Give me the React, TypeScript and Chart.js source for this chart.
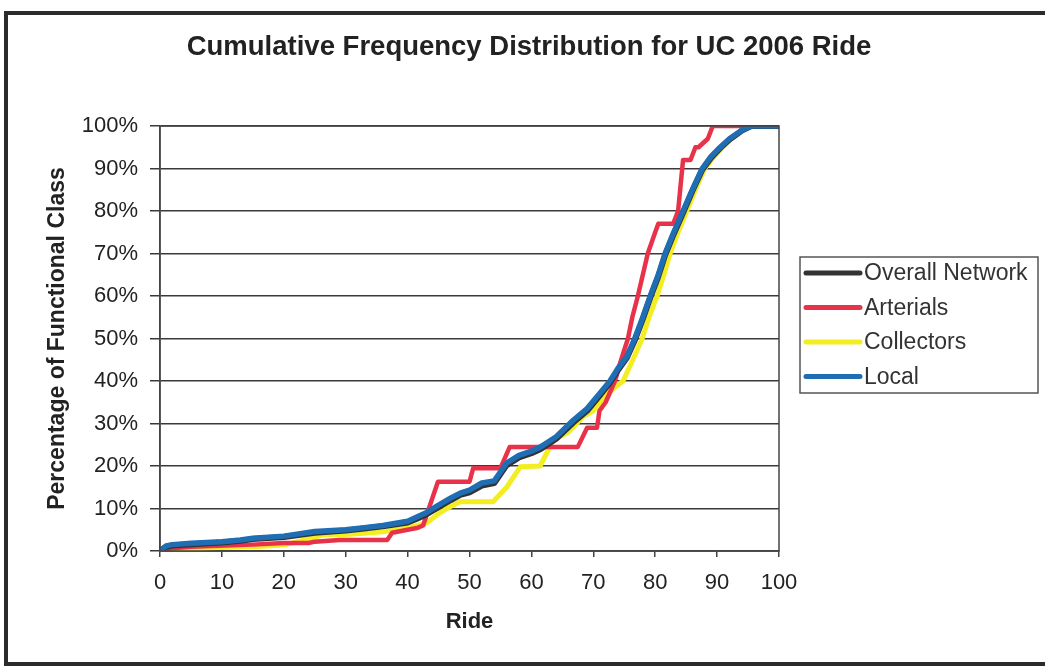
import React, { useEffect, useRef } from "react";
import { Chart, registerables } from "chart.js";

Chart.register(...registerables);

const TITLE = "Cumulative Frequency Distribution for UC 2006 Ride";
const X_TITLE = "Ride";
const Y_TITLE = "Percentage of Functional Class";

const localX = [0, 1, 2, 5, 10, 13, 15, 20, 25, 30, 33, 36, 40, 41.5, 43, 45, 47, 48.5, 50, 52, 54, 56, 58, 60, 61.5, 64, 66.8, 69, 71, 72.7, 74, 75.4, 76.7, 78, 79.2, 80.5, 81.6, 83, 84.5, 86, 87.6, 89, 90.5, 92, 94, 95.5, 100];
const localY = [0, 1.2, 1.5, 1.8, 2.2, 2.6, 3.0, 3.5, 4.6, 5.0, 5.5, 6.0, 7.0, 8.0, 9.0, 10.8, 12.5, 13.6, 14.3, 16, 16.5, 20.7, 22.5, 23.5, 24.5, 26.9, 30.8, 33.5, 37, 40, 43, 45.7, 50, 55, 60, 65, 70, 75, 80, 85, 90, 92.8, 95, 97, 99, 100, 100];

const overallX = [0, 1, 2, 5, 10, 13, 15, 20, 25, 30, 33, 36, 40, 41.5, 43, 45, 47, 48.5, 50, 52, 54, 56, 58, 60, 61.5, 64, 66.8, 69, 71, 72.7, 74, 75.4, 76.7, 78, 79.2, 80.5, 81.6, 83, 84.5, 86, 87.6, 89, 90.5, 92, 94, 95.5, 100];
const overallY = [0, 1.0, 1.3, 1.6, 2.0, 2.4, 2.8, 3.3, 4.3, 4.8, 5.3, 5.8, 6.7, 7.6, 8.6, 10.3, 12.0, 13.2, 13.8, 15.4, 16.0, 20.2, 22.0, 23.0, 24.0, 26.4, 30.3, 33.0, 36.5, 39.6, 42.6, 45.4, 49.6, 54.6, 59.6, 64.6, 69.6, 74.6, 79.6, 84.7, 89.7, 92.5, 94.8, 96.8, 98.9, 100, 100];

const arterialsX = [0, 1, 5, 15, 20, 24, 25, 29, 36.7, 37.5, 40, 41.5, 42.5, 44.9, 47, 50, 50.6, 55, 56.5, 60, 66.7, 67.5, 69, 70.6, 71, 72, 73.5, 74.5, 75.6, 76.3, 77.2, 78.8, 80, 80.5, 82.9, 83.7, 84.5, 85.7, 86.5, 87, 88.5, 89.3, 100];
const arterialsY = [0, 0.5, 1.0, 1.5, 1.9, 1.9, 2.2, 2.6, 2.6, 4.3, 5.0, 5.4, 6.0, 16.3, 16.3, 16.3, 19.5, 19.5, 24.5, 24.5, 24.5, 24.5, 29, 29, 33, 35, 40, 45, 50, 55, 60, 70, 75, 77, 77, 80, 92, 92, 95, 95, 97, 100, 100];

const collectorsX = [0, 2, 5, 10, 15, 20, 23, 26.4, 30, 33, 36, 40, 43, 45.2, 47, 48.5, 50, 53.8, 56, 58.2, 61.4, 63.5, 66, 68.3, 70, 72.2, 74.8, 76.4, 77.9, 79, 80.3, 81.4, 82.4, 83.7, 85.1, 86.5, 88, 89.5, 90.8, 92.3, 94, 95.5, 100];
const collectorsY = [0, 0.3, 0.5, 0.8, 1.0, 1.4, 2.5, 3.8, 3.9, 4.2, 4.5, 5.5, 6.5, 9, 10.5, 11.6, 11.6, 11.6, 15, 19.8, 20, 26, 28, 31.6, 33, 37, 40, 45, 50, 55, 60, 65, 70, 75, 80, 85, 90, 92.8, 95, 97, 99, 100, 100];

const SERIES_NAMES = ["Overall Network", "Arterials", "Collectors", "Local"];
const SERIES_COLORS = ["#333333", "#e8324a", "#f2ee22", "#1f6db3"];
const TICK_STEP = 10;

function pts(xs: number[], ys: number[]) {
  return xs.map((x, i) => ({ x, y: ys[i] }));
}

const FONT = "'Liberation Sans', Arial, sans-serif";

const framePlugin = {
  id: "framePlugin",
  afterDraw(chart: any) {
    const { ctx, chartArea } = chart;
    ctx.save();
    ctx.strokeStyle = "#444";
    ctx.lineWidth = 1.5;
    ctx.strokeRect(chartArea.left, chartArea.top, chartArea.right - chartArea.left, chartArea.bottom - chartArea.top);
    ctx.fillStyle = "#222";
    ctx.font = "bold 27.5px " + FONT;
    ctx.textAlign = "center";
    ctx.textBaseline = "middle";
    ctx.fillText(TITLE, 529, 47);
    const lx = 800, ly = 257, lw = 238, lh = 136;
    ctx.fillStyle = "#fff";
    ctx.fillRect(lx, ly, lw, lh);
    ctx.strokeStyle = "#555";
    ctx.lineWidth = 1.5;
    ctx.strokeRect(lx, ly, lw, lh);
    ctx.font = "23px " + FONT;
    ctx.textAlign = "left";
    chart.data.datasets.forEach((ds: any, i: number) => {
      const y = 273 + i * 34.5;
      ctx.strokeStyle = ds.borderColor;
      ctx.lineWidth = 5;
      ctx.lineCap = "round";
      ctx.beginPath();
      ctx.moveTo(806, y);
      ctx.lineTo(860, y);
      ctx.stroke();
      ctx.fillStyle = "#333";
      ctx.fillText(ds.label, 864, y + 1);
    });
    ctx.restore();
  },
};

export default function App() {
  const ref = useRef<HTMLCanvasElement>(null);
  useEffect(() => {
    if (!ref.current) return;
    const seriesData = [
      pts(overallX, overallY),
      pts(arterialsX, arterialsY),
      pts(collectorsX, collectorsY),
      pts(localX, localY),
    ];
    const orders = [1, 2, 3, 0];
    const widths = [6, 4.5, 5, 5.5];
    const chart = new Chart(ref.current, {
      type: "line",
      data: {
        datasets: seriesData.map((d, i) => ({
          label: SERIES_NAMES[i],
          data: d,
          borderColor: SERIES_COLORS[i],
          backgroundColor: SERIES_COLORS[i],
          borderWidth: widths[i],
          pointRadius: 0,
          tension: 0,
          order: orders[i],
          borderJoinStyle: "round" as const,
          borderCapStyle: "round" as const,
        })),
      },
      options: {
        responsive: false,
        animation: false,
        layout: { padding: { left: 0, top: 126, right: 266, bottom: 0 } },
        plugins: { legend: { display: false }, title: { display: false }, tooltip: { enabled: false } },
        scales: {
          x: {
            type: "linear",
            min: 0,
            max: 100,
            ticks: { stepSize: TICK_STEP, color: "#222", font: { size: 22, family: FONT }, padding: 13 },
            grid: { drawOnChartArea: false, drawTicks: true, tickLength: 6, color: "#444", lineWidth: 1.5 },
            border: { display: true, color: "#444", width: 1.5 },
            title: { display: true, text: X_TITLE, color: "#222", font: { size: 22, weight: "bold", family: FONT }, padding: { top: 0, bottom: 32 } },
            afterFit: (s: any) => { s.height = 116; },
          },
          y: {
            type: "linear",
            min: 0,
            max: 100,
            ticks: { stepSize: TICK_STEP, color: "#222", callback: (v: any) => v + "%", font: { size: 22, family: FONT }, padding: 12 },
            grid: { drawTicks: true, tickLength: 10, color: "#3a3a3a", lineWidth: 1.5 },
            border: { display: true, color: "#444", width: 1.5 },
            title: { display: true, text: Y_TITLE, color: "#222", font: { size: 23, weight: "bold", family: FONT }, padding: { top: 44, bottom: 0 } },
            afterFit: (s: any) => { s.width = 160; },
          },
        },
      },
      plugins: [framePlugin],
    } as any);
    return () => chart.destroy();
  }, []);
  return (
    <div style={{ position: "fixed", left: 0, top: 0, width: 1045, height: 667, background: "#fff", overflow: "hidden" }}>
      <div style={{ position: "absolute", left: 4, top: 11, width: 1060, height: 655, border: "4px solid #2b2b2b", boxSizing: "border-box" }} />
      <canvas ref={ref} width={1045} height={667} style={{ position: "absolute", left: 0, top: 0 }} />
    </div>
  );
}
